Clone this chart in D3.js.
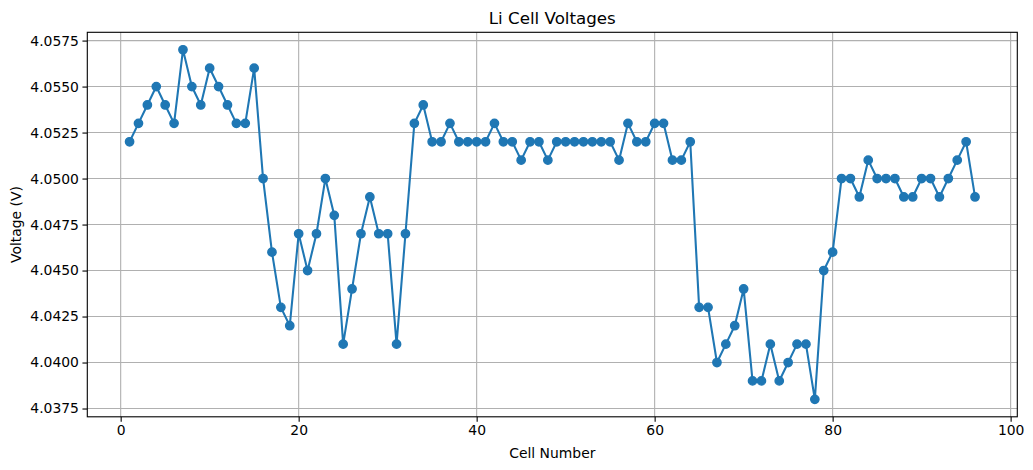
<!DOCTYPE html>
<html>
<head>
<meta charset="utf-8">
<script src="https://cdn.jsdelivr.net/npm/d3@7"></script>
<style>
  body { margin: 0; background: #fff; }
  text { font-family: "DejaVu Sans", sans-serif; fill: #000; }
</style>
</head>
<body>
<div id="chart"></div>
<script>
// cell voltages (cells 1..96)
var voltages = [
  4.052, 4.053, 4.054, 4.055, 4.054, 4.053, 4.057, 4.055, 4.054, 4.056,
  4.055, 4.054, 4.053, 4.053, 4.056, 4.050, 4.046, 4.043, 4.042, 4.047,
  4.045, 4.047, 4.050, 4.048, 4.041, 4.044, 4.047, 4.049, 4.047, 4.047,
  4.041, 4.047, 4.053, 4.054, 4.052, 4.052, 4.053, 4.052, 4.052, 4.052,
  4.052, 4.053, 4.052, 4.052, 4.051, 4.052, 4.052, 4.051, 4.052, 4.052,
  4.052, 4.052, 4.052, 4.052, 4.052, 4.051, 4.053, 4.052, 4.052, 4.053,
  4.053, 4.051, 4.051, 4.052, 4.043, 4.043, 4.040, 4.041, 4.042, 4.044,
  4.039, 4.039, 4.041, 4.039, 4.040, 4.041, 4.041, 4.038, 4.045, 4.046,
  4.050, 4.050, 4.049, 4.051, 4.050, 4.050, 4.050, 4.049, 4.049, 4.050,
  4.050, 4.049, 4.050, 4.051, 4.052, 4.049
];
var cells = voltages.map(function(v, i) { return i + 1; });
var xTicks = [0, 20, 40, 60, 80, 100];
var yTicks = [4.0375, 4.0400, 4.0425, 4.0450, 4.0475, 4.0500, 4.0525, 4.0550, 4.0575];

var larg = 1033, haut = 470;
var m = { left: 87.3, right: 1033 - 1017.3, top: 32.3, bottom: 470 - 416.8 };
var w = larg - m.left - m.right;
var h = haut - m.top - m.bottom;

// matplotlib style 5% margins
var xmin = d3.min(cells), xmax = d3.max(cells);
var ymin = d3.min(voltages), ymax = d3.max(voltages);
var xpad = (xmax - xmin) * 0.05, ypad = (ymax - ymin) * 0.05;

var x = d3.scaleLinear().domain([xmin - xpad, xmax + xpad]).range([0, w]);
var y = d3.scaleLinear().domain([ymin - ypad, ymax + ypad]).range([h, 0]);

var svg = d3.select("#chart")
  .append("svg")
  .attr("width", larg)
  .attr("height", haut);

var g = svg.append("g")
  .attr("transform", "translate(" + m.left + "," + m.top + ")");

// grille
g.append("g")
  .selectAll("line.gx")
  .data(xTicks)
  .enter().append("line")
  .attr("x1", function(d) { return x(d); })
  .attr("x2", function(d) { return x(d); })
  .attr("y1", 0).attr("y2", h)
  .attr("stroke", "#b0b0b0").attr("stroke-width", 1.1);

g.append("g")
  .selectAll("line.gy")
  .data(yTicks)
  .enter().append("line")
  .attr("y1", function(d) { return y(d); })
  .attr("y2", function(d) { return y(d); })
  .attr("x1", 0).attr("x2", w)
  .attr("stroke", "#b0b0b0").attr("stroke-width", 1.1);

// ligne + points
var line = d3.line()
  .x(function(d, i) { return x(cells[i]); })
  .y(function(d) { return y(d); });

g.append("path")
  .datum(voltages)
  .attr("d", line)
  .attr("fill", "none")
  .attr("stroke", "#1f77b4")
  .attr("stroke-width", 2.08)
  .attr("stroke-linejoin", "round");

g.selectAll("circle")
  .data(voltages)
  .enter().append("circle")
  .attr("cx", function(d, i) { return x(cells[i]); })
  .attr("cy", function(d) { return y(d); })
  .attr("r", 4.17)
  .attr("fill", "#1f77b4")
  .attr("stroke", "#1f77b4")
  .attr("stroke-width", 1.39);

// axes
var xAxis = d3.axisBottom(x).tickValues(xTicks).tickSize(4.86).tickPadding(3.5).tickSizeOuter(0);
var yAxis = d3.axisLeft(y).tickValues(yTicks).tickFormat(d3.format(".4f")).tickSize(4.86).tickPadding(3.5).tickSizeOuter(0);

var gx = g.append("g")
  .attr("transform", "translate(0," + h + ")")
  .call(xAxis);
var gy = g.append("g").call(yAxis);

[gx, gy].forEach(function(a) {
  a.select(".domain").remove();
  a.selectAll(".tick line").attr("stroke", "#000").attr("stroke-width", 1.1);
  a.selectAll(".tick text").attr("font-size", "13.9px").attr("fill", "#000")
    .style("font-family", "'DejaVu Sans', sans-serif");
});

// cadre
g.append("rect")
  .attr("x", 0).attr("y", 0)
  .attr("width", w).attr("height", h)
  .attr("fill", "none")
  .attr("stroke", "#000")
  .attr("stroke-width", 1.1);

// textes
svg.append("text")
  .attr("x", m.left + w / 2)
  .attr("y", 23.5)
  .attr("text-anchor", "middle")
  .attr("font-size", "16.7px")
  .text("Li Cell Voltages");

svg.append("text")
  .attr("x", m.left + w / 2)
  .attr("y", 458)
  .attr("text-anchor", "middle")
  .attr("font-size", "13.9px")
  .text("Cell Number");

svg.append("text")
  .attr("transform", "translate(21," + (m.top + h / 2) + ") rotate(-90)")
  .attr("text-anchor", "middle")
  .attr("font-size", "13.9px")
  .text("Voltage (V)");
</script>
</body>
</html>
